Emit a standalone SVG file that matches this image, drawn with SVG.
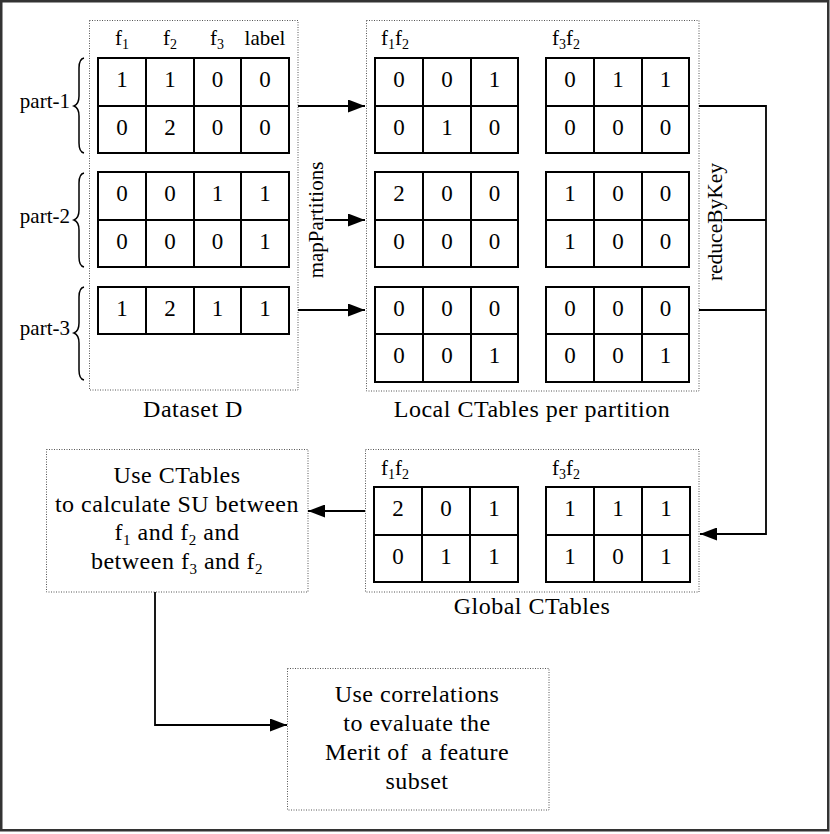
<svg xmlns="http://www.w3.org/2000/svg" width="830" height="834" viewBox="0 0 830 834">
<style>
text{font-family:"Liberation Serif","Times New Roman",serif;fill:#000}
.big{font-size:24px;letter-spacing:0.5px}
.mid{text-anchor:middle}
.cell{font-size:23px;text-anchor:middle}
.lbl{font-size:21px}
.grid{fill:none;stroke:#000;stroke-width:2}
.dot{fill:none;stroke:#555;stroke-width:1;stroke-dasharray:1 1.5}
.conn{fill:none;stroke:#000;stroke-width:1.8}
.brace{fill:none;stroke:#000;stroke-width:1.5}
</style>
<defs>
<marker id="arr" markerUnits="userSpaceOnUse" markerWidth="17" markerHeight="13" refX="17" refY="6.5" orient="auto">
<path d="M0,0 L17,6.5 L0,13 z" fill="#000"/>
</marker>
</defs>
<rect x="1.25" y="1.25" width="827" height="829" fill="#fff" stroke="#333" stroke-width="2.5"/>

<g id="dataset">
<rect class="dot" x="89.5" y="20.5" width="208.5" height="369.5"/>
<g class="lbl mid">
<text x="122" y="45" class="lbl mid">f<tspan font-size="14" dy="4">1</tspan></text>
<text x="170" y="45" class="lbl mid">f<tspan font-size="14" dy="4">2</tspan></text>
<text x="217" y="45" class="lbl mid">f<tspan font-size="14" dy="4">3</tspan></text>
<text x="265" y="45" class="lbl mid" font-size="22px">label</text>
</g>
<path class="grid" d="M98,58H289V153H98Z M146,58V153 M194,58V153 M241,58V153 M98,106H289"/>
<path class="grid" d="M98,172H289V267H98Z M146,172V267 M194,172V267 M241,172V267 M98,220H289"/>
<path class="grid" d="M98,287H289V334H98Z M146,287V334 M194,287V334 M241,287V334"/>
<g class="cell">
<text x="122" y="87" class="cell">1</text><text x="170" y="87" class="cell">1</text><text x="217.5" y="87" class="cell">0</text><text x="265" y="87" class="cell">0</text>
<text x="122" y="135" class="cell">0</text><text x="170" y="135" class="cell">2</text><text x="217.5" y="135" class="cell">0</text><text x="265" y="135" class="cell">0</text>
<text x="122" y="201" class="cell">0</text><text x="170" y="201" class="cell">0</text><text x="217.5" y="201" class="cell">1</text><text x="265" y="201" class="cell">1</text>
<text x="122" y="249" class="cell">0</text><text x="170" y="249" class="cell">0</text><text x="217.5" y="249" class="cell">0</text><text x="265" y="249" class="cell">1</text>
<text x="122" y="316" class="cell">1</text><text x="170" y="316" class="cell">2</text><text x="217.5" y="316" class="cell">1</text><text x="265" y="316" class="cell">1</text>
</g>
<path class="brace" d="M84,58 Q79,59 79,68 L79,96 Q79,104 74,106 Q79,108 79,116 L79,143 Q79,152 84,153"/>
<path class="brace" d="M84,173 Q79,174 79,183 L79,210 Q79,218 74,220 Q79,222 79,230 L79,257 Q79,266 84,267"/>
<path class="brace" d="M84,287 Q79,288 79,297 L79,323 Q79,331 74,333 Q79,335 79,343 L79,370 Q79,379 84,380"/>
<text x="70" y="108" class="lbl" text-anchor="end">part-1</text>
<text x="70" y="223" class="lbl" text-anchor="end">part-2</text>
<text x="70" y="335" class="lbl" text-anchor="end">part-3</text>
<text x="193" y="417" class="big mid">Dataset D</text>
</g>

<g id="local-ctables">
<rect class="dot" x="366.5" y="20.5" width="332.5" height="370.5"/>
<text x="381" y="45" class="lbl">f<tspan font-size="14" dy="4">1</tspan><tspan dy="-4">f</tspan><tspan font-size="14" dy="4">2</tspan></text>
<text x="552" y="45" class="lbl">f<tspan font-size="14" dy="4">3</tspan><tspan dy="-4">f</tspan><tspan font-size="14" dy="4">2</tspan></text>
<path class="grid" d="M375,58H518V153H375Z M423,58V153 M471,58V153 M375,106H518"/>
<path class="grid" d="M546,58H689V153H546Z M594,58V153 M642,58V153 M546,106H689"/>
<path class="grid" d="M375,172H518V267H375Z M423,172V267 M471,172V267 M375,220H518"/>
<path class="grid" d="M546,172H689V267H546Z M594,172V267 M642,172V267 M546,220H689"/>
<path class="grid" d="M375,287H518V382H375Z M423,287V382 M471,287V382 M375,334H518"/>
<path class="grid" d="M546,287H689V382H546Z M594,287V382 M642,287V382 M546,334H689"/>
<g>
<text x="399" y="87" class="cell">0</text><text x="447" y="87" class="cell">0</text><text x="494.5" y="87" class="cell">1</text>
<text x="399" y="135" class="cell">0</text><text x="447" y="135" class="cell">1</text><text x="494.5" y="135" class="cell">0</text>
<text x="570" y="87" class="cell">0</text><text x="618" y="87" class="cell">1</text><text x="665.5" y="87" class="cell">1</text>
<text x="570" y="135" class="cell">0</text><text x="618" y="135" class="cell">0</text><text x="665.5" y="135" class="cell">0</text>
<text x="399" y="201" class="cell">2</text><text x="447" y="201" class="cell">0</text><text x="494.5" y="201" class="cell">0</text>
<text x="399" y="249" class="cell">0</text><text x="447" y="249" class="cell">0</text><text x="494.5" y="249" class="cell">0</text>
<text x="570" y="201" class="cell">1</text><text x="618" y="201" class="cell">0</text><text x="665.5" y="201" class="cell">0</text>
<text x="570" y="249" class="cell">1</text><text x="618" y="249" class="cell">0</text><text x="665.5" y="249" class="cell">0</text>
<text x="399" y="316" class="cell">0</text><text x="447" y="316" class="cell">0</text><text x="494.5" y="316" class="cell">0</text>
<text x="399" y="363" class="cell">0</text><text x="447" y="363" class="cell">0</text><text x="494.5" y="363" class="cell">1</text>
<text x="570" y="316" class="cell">0</text><text x="618" y="316" class="cell">0</text><text x="665.5" y="316" class="cell">0</text>
<text x="570" y="363" class="cell">0</text><text x="618" y="363" class="cell">0</text><text x="665.5" y="363" class="cell">1</text>
</g>
<text x="532" y="417" class="big mid">Local CTables per partition</text>
</g>

<g id="global-ctables">
<rect class="dot" x="365.5" y="449.5" width="333.5" height="142.5"/>
<text x="381" y="475" class="lbl">f<tspan font-size="14" dy="4">1</tspan><tspan dy="-4">f</tspan><tspan font-size="14" dy="4">2</tspan></text>
<text x="552" y="475" class="lbl">f<tspan font-size="14" dy="4">3</tspan><tspan dy="-4">f</tspan><tspan font-size="14" dy="4">2</tspan></text>
<path class="grid" d="M374,487H518V582H374Z M422,487V582 M470,487V582 M374,535H518"/>
<path class="grid" d="M546,487H690V582H546Z M594,487V582 M642,487V582 M546,535H690"/>
<text x="398" y="516" class="cell">2</text><text x="446" y="516" class="cell">0</text><text x="494" y="516" class="cell">1</text>
<text x="398" y="564" class="cell">0</text><text x="446" y="564" class="cell">1</text><text x="494" y="564" class="cell">1</text>
<text x="570" y="516" class="cell">1</text><text x="618" y="516" class="cell">1</text><text x="666" y="516" class="cell">1</text>
<text x="570" y="564" class="cell">1</text><text x="618" y="564" class="cell">0</text><text x="666" y="564" class="cell">1</text>
<text x="532" y="614" class="big mid">Global CTables</text>
</g>

<g id="su-box">
<rect class="dot" x="46.5" y="449.5" width="261.5" height="142.5"/>
<text x="177" y="483" class="big mid">Use CTables</text>
<text x="177" y="511.5" class="big mid">to calculate SU between</text>
<text x="177" y="540" class="big mid">f<tspan font-size="15" dy="5">1</tspan><tspan dy="-5"> and f</tspan><tspan font-size="15" dy="5">2</tspan><tspan dy="-5"> and</tspan></text>
<text x="177" y="568.5" class="big mid">between f<tspan font-size="15" dy="5">3</tspan><tspan dy="-5"> and f</tspan><tspan font-size="15" dy="5">2</tspan></text>
</g>

<g id="merit-box">
<rect class="dot" x="287.5" y="668.5" width="261.5" height="141.5"/>
<text x="417" y="702" class="big mid">Use correlations</text>
<text x="417" y="731" class="big mid">to evaluate the</text>
<text x="417" y="760" class="big mid">Merit of&#160; a feature</text>
<text x="417" y="789" class="big mid">subset</text>
</g>

<g id="connectors">
<path class="conn" d="M298,106H365" marker-end="url(#arr)"/>
<path class="conn" d="M325,220H365" marker-end="url(#arr)"/>
<path class="conn" d="M298,310H365" marker-end="url(#arr)"/>
<text transform="translate(323,220) rotate(-90)" class="mid" font-size="21px">mapPartitions</text>
<path class="conn" d="M699,106H766V534H700" marker-end="url(#arr)"/>
<path class="conn" d="M723,220H766"/>
<path class="conn" d="M699,310H766"/>
<text transform="translate(722,222) rotate(-90)" class="mid" font-size="21.5px">reduceByKey</text>
<path class="conn" d="M365,511H308" marker-end="url(#arr)"/>
<path class="conn" d="M155,592V725H287" marker-end="url(#arr)"/>
</g>
</svg>
